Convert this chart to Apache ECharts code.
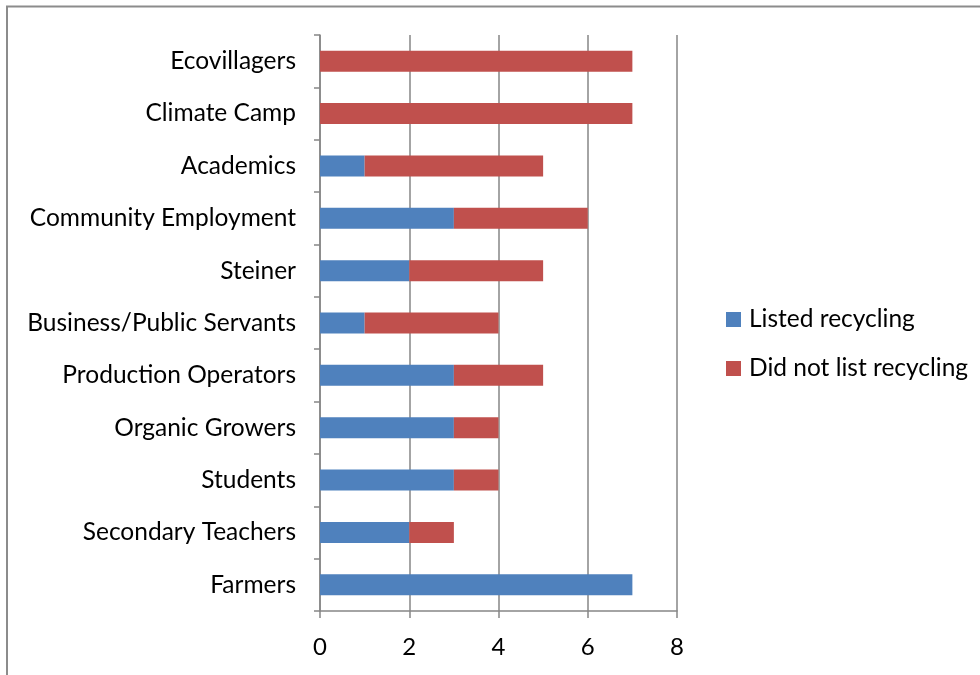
<!DOCTYPE html>
<html><head><meta charset="utf-8">
<script src="https://cdn.jsdelivr.net/npm/echarts@6/dist/echarts.min.js"></script>
<style>html,body{margin:0;padding:0;background:#fff}#c{width:980px;height:675px}</style>
</head><body><div id="c"></div>
<script>
const categories = ["Farmers","Secondary Teachers","Students","Organic Growers","Production Operators","Business/Public Servants","Steiner","Community Employment","Academics","Climate Camp","Ecovillagers"];
const listedRecycling = [7,2,3,3,3,1,2,3,1,0,0];
const didNotList = [0,1,1,1,2,3,3,3,4,7,7];
const seriesNames = ["Listed recycling","Did not list recycling"];
const xTicks = {min:0,max:8,interval:2};

const font = "Lato, 'Open Sans', sans-serif";
const chart = echarts.init(document.getElementById('c'), null, {renderer:'canvas'});
chart.setOption({
  animation:false,
  backgroundColor:'#fff',
  graphic:[{type:'rect',shape:{x:7,y:6.5,width:1000,height:700},style:{fill:'none',stroke:'#8c8c8c',lineWidth:2},silent:true}],
  grid:{left:320,right:303,top:35,bottom:64,containLabel:false},
  legend:{orient:'vertical',left:726,top:307,padding:0,itemWidth:15,itemHeight:15,itemGap:24,icon:'rect',
    textStyle:{fontFamily:font,fontSize:24.5,lineHeight:24,color:'#000',padding:[0,0,0,3]},data:seriesNames},
  xAxis:{type:'value',min:xTicks.min,max:xTicks.max,interval:xTicks.interval,
    axisLine:{show:true,lineStyle:{color:'#868686',width:1.5}},
    axisTick:{show:true,length:7,lineStyle:{color:'#868686',width:1.5}},
    axisLabel:{fontFamily:font,fontSize:24,color:'#000',margin:24},
    splitLine:{show:true,lineStyle:{color:'#868686',width:1.5}}},
  yAxis:{type:'category',data:categories,
    axisLine:{show:true,lineStyle:{color:'#868686',width:1.5}},
    axisTick:{show:true,length:6,lineStyle:{color:'#868686',width:1.5}},
    axisLabel:{fontFamily:font,fontSize:24.5,color:'#000',margin:24,padding:[4,0,0,0]}},
  series:[
    {name:seriesNames[0],type:'bar',stack:'a',data:listedRecycling,barWidth:21,itemStyle:{color:'#4F81BD'}},
    {name:seriesNames[1],type:'bar',stack:'a',data:didNotList,barWidth:21,itemStyle:{color:'#C0504D'}}
  ]
});
</script></body></html>
